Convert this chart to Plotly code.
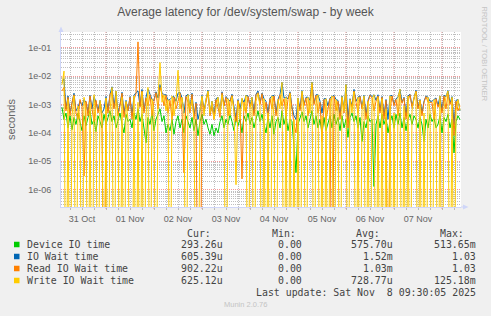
import plotly.graph_objects as go
import pandas as pd

# ---------------- data (values in microseconds, 1 point per hour) ----------------
title_text = "Average latency for /dev/system/swap - by week"
series_names = ["Device IO time", "IO Wait time", "Read IO Wait time", "Write IO Wait time"]
series_colors = ["#00CC00", "#0066B3", "#FF8000", "#FFCC00"]
first_sample = "2025-10-31 02:00"
x_range = ["2025-10-31 01:30", "2025-11-08 09:30"]

device_us = [
    800, 300, 500, 150, 400, 130, 350, 200, 500, 250, 120, 400, 180, 350, 600, 200, 300, 110, 400, 250,
    150, 450, 200, 350, 600, 250, 400, 150, 300, 500, 200, 100, 450, 250, 300, 150, 500, 300, 700, 250,
    450, 150, 45, 350, 200, 500, 120, 300, 500, 700, 250, 400, 100, 200, 120, 300, 90, 250, 400, 150,
    300, 100, 400, 250, 150, 350, 120, 300, 80, 250, 450, 200, 300, 150, 90, 200, 80, 150, 100, 250,
    400, 150, 300, 200, 450, 250, 120, 350, 180, 300, 100, 400, 250, 500, 200, 350, 150, 300, 600, 250,
    450, 200, 100, 350, 150, 400, 90, 250, 350, 150, 600, 200, 400, 120, 300, 250, 40, 4, 200, 350,
    550, 250, 400, 150, 300, 600, 200, 400, 150, 300, 100, 350, 120, 250, 400, 150, 450, 200, 350, 120,
    400, 150, 300, 70, 350, 500, 250, 400, 150, 350, 50, 250, 150, 400, 250, 300, 1.3, 200, 400, 150,
    450, 200, 350, 100, 250, 400, 150, 450, 200, 500, 150, 350, 120, 300, 450, 200, 400, 300, 150, 350,
    200, 50, 300, 150, 450, 250, 350, 150, 200, 400, 100, 350, 250, 450, 150, 300, 20, 250, 400, 290,
]
iowait_us = [
    6000, 8000, 700, 2000, 500, 1000, 2500, 600, 800, 1300, 900, 1500, 1200, 500, 2100, 700, 1900, 1200, 600, 1400,
    500, 700, 1900, 600, 2300, 4200, 800, 3000, 500, 1000, 2700, 500, 1400, 600, 1900, 400, 2100, 2600, 3000, 900,
    3400, 600, 1800, 3500, 2400, 1500, 1400, 2800, 1700, 5000, 2600, 2200, 2200, 1400, 1500, 1800, 1900, 1300, 2500, 2700,
    1700, 500, 2000, 2300, 700, 2500, 400, 1200, 300, 600, 2100, 600, 1500, 3200, 500, 1300, 400, 1600, 1800, 500,
    2800, 900, 1900, 1600, 1300, 2300, 700, 300, 1500, 700, 1600, 1200, 2100, 2000, 900, 1800, 500, 2300, 3000, 1100,
    2500, 1600, 1300, 500, 1700, 2000, 2100, 500, 1500, 2300, 6000, 1700, 1800, 1600, 2800, 800, 400, 300, 1700, 700,
    3100, 1000, 1800, 1800, 1400, 6200, 1100, 2200, 2200, 1300, 500, 1600, 1600, 900, 1700, 1900, 2100, 1500, 1400, 400,
    2000, 700, 5000, 300, 1600, 900, 3400, 1300, 1800, 2000, 800, 2100, 400, 1400, 2200, 1900, 2200, 1400, 2200, 600,
    1900, 400, 1500, 300, 2000, 2100, 1000, 1600, 1800, 3400, 1200, 1800, 400, 2000, 2300, 900, 1800, 3200, 800, 1500,
    500, 1300, 2000, 1800, 1300, 1300, 1500, 1700, 900, 2000, 600, 2100, 1900, 3100, 1100, 1900, 200, 1400, 1500, 605,
]
read_us = [
    3000, 4000, 600, 1800, 400, 1200, 2200, 500, 300, 1500, 900, 3, 1300, 400, 2000, 600, 250, 1400, 500, 1100,
    300, 0, 1600, 500, 2200, 3000, 700, 1900, 400, 900, 2500, 350, 1200, 600, 1800, 300, 1500, 2400, 160000, 800,
    3000, 500, 1700, 900, 2200, 400, 1300, 2600, 700, 4000, 2400, 900, 2100, 500, 1400, 300, 1800, 700, 1300, 2500,
    600, 4, 1900, 1200, 500, 2300, 300, 1100, 0, 0, 1700, 600, 1200, 2600, 400, 900, 300, 1500, 800, 350,
    2600, 900, 1800, 400, 1300, 2100, 600, 250, 1400, 700, 2.4, 1200, 500, 1900, 800, 1300, 400, 2200, 2600, 1000,
    2400, 500, 1200, 300, 1600, 700, 2000, 400, 1100, 2200, 900, 1600, 400, 1500, 2600, 700, 200, 100, 1400, 600,
    2500, 900, 1700, 400, 1300, 5000, 1000, 2100, 500, 1200, 50, 1500, 300, 800, 1600, 0, 2000, 600, 1300, 300,
    1700, 500, 2400, 150, 1400, 800, 3000, 1200, 500, 1900, 700, 1600, 300, 1200, 2100, 1700, 600, 1300, 2000, 500,
    1800, 300, 1400, 0, 600, 2000, 900, 1500, 400, 2300, 1100, 1700, 300, 1300, 2200, 800, 1600, 3000, 700, 1400,
    400, 1200, 1900, 1200, 1200, 1200, 300, 1600, 800, 1300, 500, 2000, 700, 2400, 1000, 1600, 80, 1300, 600, 902,
]
write_us = [
    5000, 15000, 0, 1500, 0, 400, 2000, 0, 900, 300, 0, 1800, 500, 0, 1200, 0, 2200, 300, 0, 1400,
    500, 0, 1700, 0, 600, 4000, 0, 3000, 400, 0, 1800, 0, 1300, 300, 0, 0, 2000, 0, 1200, 0,
    2800, 0, 400, 4000, 0, 1600, 500, 0, 1800, 30000, 1200, 2200, 600, 1500, 0, 2000, 400, 1300, 16000, 700,
    1800, 500, 0, 2200, 700, 1500, 300, 0, 0, 600, 2000, 400, 1500, 3000, 500, 1300, 300, 900, 1800, 500,
    2200, 700, 0, 1600, 400, 1900, 600, 1.5, 1300, 300, 1700, 600, 2100, 0, 700, 1800, 0, 1300, 2400, 900,
    0, 1600, 0, 500, 0, 2000, 400, 0, 1500, 700, 6000, 0, 1800, 0, 2400, 0, 300, 0, 1700, 0,
    3000, 600, 0, 1800, 500, 6000, 0, 1300, 2200, 0, 400, 0, 1600, 0, 700, 2000, 0, 1500, 500, 0,
    1900, 600, 5000, 0, 1500, 500, 2800, 0, 1800, 0, 600, 2000, 0, 1300, 0, 1500, 2200, 0, 1800, 0,
    1600, 0, 700, 0, 2000, 0, 500, 0, 1800, 3400, 0, 900, 0, 2000, 0, 600, 1700, 2800, 0, 1400,
    0, 500, 0, 1800, 600, 0, 1500, 400, 0, 2000, 0, 700, 1900, 3000, 0, 1800, 0, 600, 1500, 625,
]

y_tick_vals = [1e-6, 1e-5, 1e-4, 1e-3, 1e-2, 1e-1]
y_tick_text = ["1e-06", "1e-05", "1e-04", "1e-03", "1e-02", "1e-01"]
x_tick_dates = ["2025-10-31 12:00", "2025-11-01 12:00", "2025-11-02 12:00", "2025-11-03 12:00",
                "2025-11-04 12:00", "2025-11-05 12:00", "2025-11-06 12:00", "2025-11-07 12:00"]
x_tick_text = ["31 Oct", "01 Nov", "02 Nov", "03 Nov", "04 Nov", "05 Nov", "06 Nov", "07 Nov"]
day_lines = ["2025-11-01", "2025-11-02", "2025-11-03", "2025-11-04",
             "2025-11-05", "2025-11-06", "2025-11-07", "2025-11-08"]

legend_cur = ["293.26u", "605.39u", "902.22u", "625.12u"]
legend_min = ["0.00", "0.00", "0.00", "0.00"]
legend_avg = ["575.70u", "1.52m", "1.03m", "728.77u"]
legend_max = ["513.65m", "1.03", "1.03", "125.18m"]
last_update = "Last update: Sat Nov  8 09:30:05 2025"
version_text = "Munin 2.0.76"
side_text = "RRDTOOL / TOBI OETIKER"

# ---------------- layout geometry (pixels) ----------------
W, H = 491, 316
L, T, PW, PH = 61, 32, 400, 175
B = T + PH


def px(xp):
    return (xp - L) / PW


def py(yp):
    return (B - yp) / PH


FLOOR = 1e-12  # zero values drawn to the bottom of the log canvas

fig = go.Figure()
for name, color, vals in zip(series_names, series_colors,
                             [device_us, iowait_us, read_us, write_us]):
    t = pd.date_range(first_sample, periods=len(vals), freq="h")
    y = [max(v * 1e-6, FLOOR) for v in vals]
    fig.add_trace(go.Scatter(x=t, y=y, mode="lines", name=name,
                             line=dict(color=color, width=1), showlegend=False))

TICK_FONT = dict(family="Liberation Sans, Arial, sans-serif", size=9, color="#666666")
AXIS_COL = "#CFD6F8"
MGRID = "rgba(240,120,120,0.75)"
GRID = "rgba(170,170,170,0.75)"

minor_y = [m * 10.0 ** e for e in range(-7, 0) for m in range(2, 10)]

fig.update_layout(
    width=W, height=H, autosize=False,
    margin=dict(l=L, r=W - L - PW, t=T, b=H - B, pad=0),
    paper_bgcolor="#F0F0F0", plot_bgcolor="#FFFFFF",
    title=dict(text=title_text, x=245.5 / W, xref="container", xanchor="center",
               y=1 - 12 / H, yref="container", yanchor="middle",
               font=dict(family="Liberation Sans, Arial, sans-serif", size=12, color="#555555")),
    xaxis=dict(type="date", range=x_range, tickmode="array", tickvals=x_tick_dates,
               ticktext=x_tick_text, showgrid=False, ticks="", tickfont=TICK_FONT,
               showline=True, linecolor=AXIS_COL, linewidth=1, zeroline=False,
               ticklabelstandoff=3,
               minor=dict(dtick=6 * 3600 * 1000, tick0="2025-10-31 00:00", showgrid=True,
                          gridcolor=GRID, gridwidth=1, griddash="1px,1px",
                          ticks="outside", ticklen=2, tickcolor=GRID)),
    yaxis=dict(type="log", range=[-6.608, -0.448], tickmode="array", tickvals=y_tick_vals,
               ticktext=y_tick_text, showgrid=True, gridcolor=MGRID, gridwidth=1,
               griddash="1px,1px", ticks="", tickfont=TICK_FONT, showline=True,
               linecolor=AXIS_COL, linewidth=1, zeroline=False, ticklabelstandoff=7,
               minor=dict(tickmode="array", tickvals=minor_y, showgrid=True,
                          gridcolor=GRID, gridwidth=1, griddash="1px,1px")),
)

shapes = []
for d in day_lines:
    shapes.append(dict(type="line", xref="x", yref="paper", x0=d, x1=d, y0=py(B + 2), y1=1,
                       line=dict(color=MGRID, width=1, dash="1px,1px"), layer="below"))
# axis arrows
shapes.append(dict(type="path", xref="paper", yref="paper",
                   path=f"M {px(58.5)} {py(32)} L {px(63.5)} {py(32)} L {px(61)} {py(26.5)} Z",
                   fillcolor=AXIS_COL, line=dict(width=0)))
shapes.append(dict(type="line", xref="paper", yref="paper", x0=1, x1=px(464), y0=0, y1=0,
                   line=dict(color=AXIS_COL, width=1)))
shapes.append(dict(type="path", xref="paper", yref="paper",
                   path=f"M {px(463)} {py(204.5)} L {px(463)} {py(209.5)} L {px(468.5)} {py(207)} Z",
                   fillcolor=AXIS_COL, line=dict(width=0)))

ann = []
MONO = dict(family="DejaVu Sans Mono, monospace", size=9.9, color="#444444")


def text(x, y, s, anchor="left", font=MONO, **kw):
    ann.append(dict(x=px(x), y=py(y), xref="paper", yref="paper", text=s, showarrow=False,
                    xanchor=anchor, yanchor="middle", font=font, borderpad=0, **kw))


# y axis title
text(10.5, B - PH / 2, "seconds", anchor="center",
     font=dict(family="Liberation Sans, Arial, sans-serif", size=11, color="#666666"), textangle=-90)
# legend header
for xr, s in zip([212, 297, 380.5, 464.5], ["Cur:", "Min:", "Avg:", "Max:"]):
    text(xr, 233, s, anchor="right")
row_y = [244.5, 256.5, 268.5, 280.5]
for i, name in enumerate(series_names):
    yc = row_y[i]
    shapes.append(dict(type="rect", xref="paper", yref="paper", x0=px(14), x1=px(19.5),
                       y0=py(yc + 2.75), y1=py(yc - 2.75), fillcolor=series_colors[i],
                       line=dict(width=0)))
    text(26, yc, name)
    text(223.5, yc, legend_cur[i], anchor="right")
    text(303, yc, legend_min[i], anchor="right")
    text(393.5, yc, legend_avg[i], anchor="right")
    text(477, yc, legend_max[i], anchor="right")
text(477, 292.5, last_update, anchor="right")
text(245, 304.5, version_text, anchor="center",
     font=dict(family="Liberation Sans, Arial, sans-serif", size=7.5, color="#C4C4C4"))
text(483.5, 54, side_text, anchor="center",
     font=dict(family="Liberation Sans, Arial, sans-serif", size=7.5, color="#C4C4C4"), textangle=90)

fig.update_layout(shapes=shapes, annotations=ann)
fig.write_html("out.html")
